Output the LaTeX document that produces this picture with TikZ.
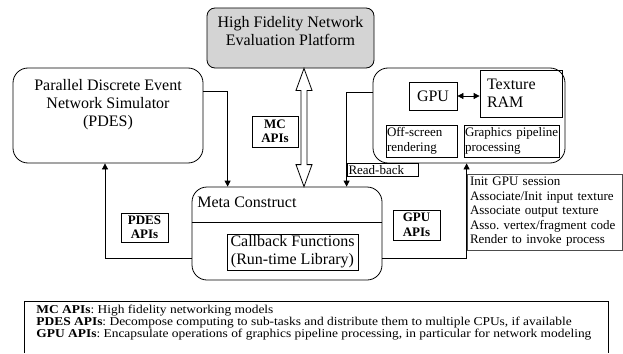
\documentclass[tikz,border=0pt]{standalone}
\usepackage{fontspec}
\setmainfont{Liberation Serif}
\newfontfamily\legendfont{Liberation Serif}[FakeStretch=1.12]
\usetikzlibrary{arrows.meta}
\frenchspacing

\begin{document}
\begin{tikzpicture}[x=1pt,y=-1pt,line width=0.8pt,
  big/.style={font=\fontsize{16}{18}\selectfont},
  small/.style={font=\fontsize{13}{14.5}\selectfont},
  apilabel/.style={draw,align=center,inner sep=0pt,font=\fontsize{13}{14.5}\selectfont\bfseries},
  rbox/.style={draw,rounded corners=15pt,inner sep=0pt},
  sbox/.style={draw,inner sep=0pt},
  conn/.style={-{Triangle[length=6pt,width=6pt]}}]
\useasboundingbox (0,0) rectangle (623,353);

\node[rbox,fill=black!17,rounded corners=8pt,minimum width=167pt,minimum height=60pt] (hf) at (290.5,38) {};
\node[big,align=center] (hftext) at (290.5,31) {High Fidelity Network\\Evaluation Platform};

\node[rbox,minimum width=190pt,minimum height=95pt] (pdes) at (108,115.5) {};
\node[big,align=center] (pdestext) at (108,105) {Parallel Discrete Event\\Network Simulator\\(PDES)};

\node[rbox,minimum width=190pt,minimum height=93pt] (meta) at (287,233.5) {};
\node[big,anchor=west,inner sep=0pt] (metatext) at (197,202) {Meta Construct};
\draw ([yshift=11.5pt]meta.west) -- ([yshift=11.5pt]meta.east);
\node[sbox,big,align=center,minimum width=131pt,minimum height=36pt] (callback) at (292.5,252) {Callback Functions\\(Run-time Library)};

\node[rbox,minimum width=192pt,minimum height=95pt] (gpuarea) at (469,115.5) {};
\node[sbox,big,minimum width=48pt,minimum height=28pt] (gpu) at (433,96) {GPU};
\node[sbox,big,align=left,text width=68pt,inner xsep=7pt,minimum height=47pt] (texram) at (521,93.5) {Texture\\RAM};
\node[sbox,small,align=left,text width=69pt,inner xsep=1pt,minimum height=32pt] (offscreen) at (421.5,141) {\mbox{Off-screen}\\rendering};
\node[sbox,small,align=left,text width=93pt,inner xsep=1pt,minimum height=32pt] (pipeline) at (511.5,141) {\mbox{Graphics pipeline}\\processing};
\node[sbox,small,align=left,text width=68pt,inner xsep=1.5pt,minimum height=13pt] (readback) at (382.5,170) {Read-back};

\node[sbox,small,align=left,text width=149pt,inner xsep=3pt,minimum height=76pt,draw=black!70] (initlist) at (544.5,212) {Init GPU session\\Associate/Init input texture\\Associate output texture\\Asso. vertex/fragment code\\Render to invoke process};

\node[apilabel,minimum width=46pt,minimum height=31pt] (mcapi) at (275,131.5) {MC\\APIs};
\node[apilabel,minimum width=47pt,minimum height=29pt] (pdesapi) at (144.5,227.5) {PDES\\APIs};
\node[apilabel,minimum width=47pt,minimum height=30pt] (gpuapi) at (416.5,225) {GPU\\APIs};

\coordinate (mctop) at ([xshift=13.5pt]hf.south);
\coordinate (mcbot) at (mctop |- meta.north);
\draw[fill=white] (mctop) -- ++(8,22) -- ++(-5,0) -- ([shift={(3,-22)}]mcbot) -- ++(5,0) -- (mcbot) -- ++(-8,-22) -- ++(5,0) -- ([shift={(-3,22)}]mctop) -- ++(-5,0) -- cycle;

\draw[conn] ([yshift=24.5pt]pdes.east) -| ([xshift=36pt]meta.north west);
\draw[conn] ([yshift=-24.5pt]meta.west) -| ([xshift=-3pt]pdes.south);
\draw[conn] ([yshift=23.5pt]gpuarea.west) -| (readback.west |- meta.north);
\draw[conn] ([yshift=-24.5pt]meta.east) -| (initlist.west |- gpuarea.south);
\draw[{Triangle[length=6pt,width=6pt]}-{Triangle[length=6pt,width=6pt]}] (gpu.east) -- (gpu.east -| texram.west);

\draw (24,353) -- (24,301) -- (608,301) -- (608,353);
\node[anchor=west,inner sep=0pt,align=left,font=\legendfont\fontsize{12}{10.3}\selectfont] (legend) at (36,323) {\textbf{MC APIs}: High fidelity networking models\\\textbf{PDES APIs}: Decompose computing to sub-tasks and distribute them to multiple CPUs, if available\\\textbf{GPU APIs}: Encapsulate operations of graphics pipeline processing, in particular for network modeling};
\end{tikzpicture}
\end{document}
